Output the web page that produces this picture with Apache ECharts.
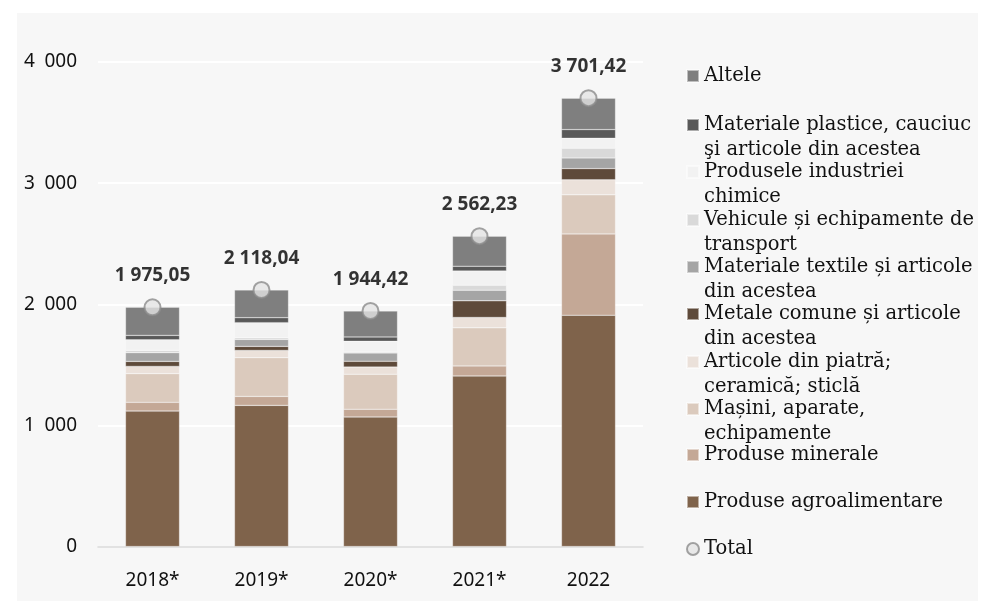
<!DOCTYPE html>
<html>
<head>
<meta charset="utf-8">
<script src="https://cdn.jsdelivr.net/npm/echarts@6/dist/echarts.min.js"></script>
<style>
html, body { margin: 0; padding: 0; background: #fff; }
#chart { width: 991px; height: 610px; }
</style>
</head>
<body>
<div id="chart"></div>
<script>
const years = ['2018*', '2019*', '2020*', '2021*', '2022'];
const agro = [1118, 1165, 1069, 1408, 1909];
const minerale = [72, 74, 64, 83, 672];
const masini = [237, 320, 289, 314, 322];
const piatra = [60, 60, 60, 86, 124];
const metale = [41, 33, 47, 137, 93];
const textile = [72, 58, 69, 88, 88];
const vehicule = [19, 14, 8, 41, 80];
const chimice = [88, 124, 88, 118, 83];
const plastice = [36, 41, 36, 39, 71];
const altele = [232, 229, 214, 248, 259];
const totals = [1975.05, 2118.04, 1944.42, 2562.23, 3701.42];
const yTicks = [0, 1000, 2000, 3000, 4000];

// bottom to top of the stack
const stackSeries = [
  { name: 'Produse agroalimentare', data: agro, color: '#7f634b' },
  { name: 'Produse minerale', data: minerale, color: '#c4a896' },
  { name: 'Mașini, aparate, echipamente', data: masini, color: '#dbcabd' },
  { name: 'Articole din piatră; ceramică; sticlă', data: piatra, color: '#ebe1da' },
  { name: 'Metale comune și articole din acestea', data: metale, color: '#5e4a3a' },
  { name: 'Materiale textile și articole din acestea', data: textile, color: '#a5a5a5' },
  { name: 'Vehicule și echipamente de transport', data: vehicule, color: '#d9d9d9' },
  { name: 'Produsele industriei chimice', data: chimice, color: '#f2f2f2' },
  { name: 'Materiale plastice, cauciuc şi articole din acestea', data: plastice, color: '#595959' },
  { name: 'Altele', data: altele, color: '#7f7f7f' }
];

// legend rows, top to bottom: name, shown text, icon centre y
const legendRows = [
  ['Altele', 'Altele', 76],
  ['Materiale plastice, cauciuc şi articole din acestea', 'Materiale plastice, cauciuc\nşi articole din acestea', 123],
  ['Produsele industriei chimice', 'Produsele industriei\nchimice', 170],
  ['Vehicule și echipamente de transport', 'Vehicule și echipamente de\ntransport', 218],
  ['Materiale textile și articole din acestea', 'Materiale textile și articole\ndin acestea', 265],
  ['Metale comune și articole din acestea', 'Metale comune și articole\ndin acestea', 312],
  ['Articole din piatră; ceramică; sticlă', 'Articole din piatră;\nceramică; sticlă', 360],
  ['Mașini, aparate, echipamente', 'Mașini, aparate,\nechipamente', 407],
  ['Produse minerale', 'Produse minerale', 455],
  ['Produse agroalimentare', 'Produse agroalimentare', 502],
  ['Total', 'Total', 549]
];

const LH = 25;

const fmt = (v) => {
  const parts = v.toFixed(2).split('.');
  return parts[0].replace(/\B(?=(\d{3})+(?!\d))/g, ' ') + ',' + parts[1];
};

const legends = legendRows.map(([name, text, yc]) => {
  const twoLines = text.indexOf('\n') >= 0;
  // a blank first line keeps the icon level with the first real line
  const shown = twoLines ? ' \n' + text : text;
  return {
    left: 686,
    top: twoLines ? yc - LH * 1.5 + 2 : yc - LH / 2,
    padding: 0,
    orient: 'vertical',
    itemWidth: 12,
    itemHeight: 12,
    selectedMode: false,
    icon: name === 'Total' ? 'circle' : 'rect',
    data: [name],
    formatter: () => shown,
    textStyle: {
      fontFamily: 'DejaVu Serif',
      fontSize: 19.5,
      lineHeight: LH,
      color: '#111'
    }
  };
});

const chart = echarts.init(document.getElementById('chart'));
chart.setOption({
  animation: false,
  graphic: [{
    type: 'rect',
    z: -10,
    shape: { x: 17, y: 13, width: 961, height: 588 },
    style: { fill: '#f7f7f7' }
  }],
  grid: { left: 98, right: 348, top: 62, bottom: 63.5 },
  legend: legends,
  xAxis: {
    type: 'category',
    data: years,
    axisTick: { show: false },
    axisLine: { lineStyle: { color: '#d9d9d9', width: 1.5 } },
    axisLabel: { margin: 25, color: '#111', fontFamily: 'Noto Sans', fontSize: 19 }
  },
  yAxis: {
    type: 'value',
    min: yTicks[0],
    max: yTicks[yTicks.length - 1],
    interval: 1000,
    axisLine: { show: false },
    axisTick: { show: false },
    splitLine: { lineStyle: { color: '#ffffff', width: 2 } },
    axisLabel: {
      margin: 21,
      color: '#111',
      fontFamily: 'Noto Sans',
      fontSize: 19,
      formatter: (v) => String(v).replace(/\B(?=(\d{3})+(?!\d))/g, '\u2002')
    }
  },
  series: stackSeries.map(s => ({
    name: s.name,
    type: 'bar',
    stack: 'exp',
    barWidth: 54,
    data: s.data,
    itemStyle: { color: s.color, borderColor: 'rgba(255,255,255,0.5)', borderWidth: 0.5 }
  })).concat([{
    name: 'Total',
    type: 'scatter',
    data: totals,
    symbol: 'circle',
    symbolSize: 16,
    z: 5,
    itemStyle: { color: '#e3e3e3', borderColor: '#8c8c8c', borderWidth: 2 },
    label: {
      show: true,
      position: 'top',
      distance: 13,
      formatter: (p) => fmt(p.value),
      fontFamily: 'Noto Sans',
      fontWeight: 'bold',
      fontSize: 19,
      color: '#000'
    }
  }])
});
</script>
</body>
</html>
